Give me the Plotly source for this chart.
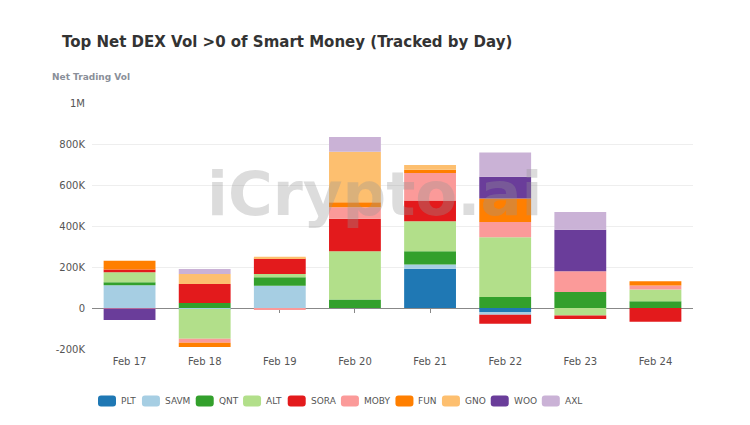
import plotly.graph_objects as go

# values in thousands (K)
days = ["Feb 17", "Feb 18", "Feb 19", "Feb 20", "Feb 21", "Feb 22", "Feb 23", "Feb 24"]

plt_vol = [0, 0, 0, 0, 192, -20, 0, 0]
savm_vol = [111, -5, 109, 0, 20, -13, 0, 0]
qnt_vol = [15, 24, 41, 41, 65, 54, 78, 33]
alt_vol = [49, -145, 16, 236, 146, 291, -36, 57]
sora_vol = [13, 93, 76, 158, 102, -44, -18, -67]
moby_vol = [-3, -20, -5, 57, 133, 75, 101, 20]
fun_vol = [42, -20, 0, 24, 16, 114, 0, 20]
gno_vol = [0, 49, 8, 246, 23, 0, 0, 0]
woo_vol = [-55, 0, 0, 0, 0, 106, 203, 0]
axl_vol = [0, 24, 0, 72, 0, 119, 86, 0]

tokens = ["PLT", "SAVM", "QNT", "ALT", "SORA", "MOBY", "FUN", "GNO", "WOO", "AXL"]
series = [plt_vol, savm_vol, qnt_vol, alt_vol, sora_vol,
          moby_vol, fun_vol, gno_vol, woo_vol, axl_vol]
colors = ["#1f78b4", "#a6cee3", "#33a02c", "#b2df8a", "#e31a1c",
          "#fb9a99", "#ff7f00", "#fdbf6f", "#6a3d9a", "#cab2d6"]

y_ticks = [-200, 0, 200, 400, 600, 800, 1000]
y_tick_labels = ["-200K", "0", "200K", "400K", "600K", "800K", "1M"]

FONT = "DejaVu Sans"

# page body has an 8px margin, so the figure is drawn 8px in from the corner
W, H = 742, 417
L, R, T, B = 84, 57, 95, 76
PW, PH = W - L - R, H - T - B


def px_x(x):
    return (x - L) / PW


def px_y(y):
    return (H - B - y) / PH


fig = go.Figure()
for name, vals, col in zip(tokens, series, colors):
    fig.add_trace(go.Bar(
        x=days,
        y=[v * 1000 for v in vals],
        name=name,
        marker=dict(color=col, line=dict(width=0)),
        showlegend=False,
    ))

# dummy trace so the tick axis at zero is drawn
fig.add_trace(go.Scatter(
    x=days, y=[None] * len(days), xaxis="x2",
    showlegend=False, hoverinfo="skip", mode="markers",
))

fig.update_layout(
    barmode="relative",
    bargap=0.31,
    width=W,
    height=H,
    margin=dict(l=L, r=R, t=T, b=B),
    paper_bgcolor="white",
    plot_bgcolor="white",
    font=dict(family=FONT, size=10, color="#555"),
    showlegend=False,
    title=dict(
        text="<b>Top Net DEX Vol >0 of Smart Money (Tracked by Day)</b>",
        xref="container", x=54 / W, xanchor="left",
        yref="container", y=1 - 34 / H, yanchor="middle",
        font=dict(family=FONT, size=15, color="#333"),
    ),
    xaxis=dict(
        type="category",
        categoryorder="array",
        categoryarray=days,
        showgrid=False,
        ticks="",
        showline=False,
        ticklabelstandoff=5,
        tickfont=dict(size=10, color="#555"),
    ),
    xaxis2=dict(
        type="category",
        categoryorder="array",
        categoryarray=days,
        overlaying="x",
        matches="x",
        anchor="free",
        position=200 / 1200,
        ticks="outside",
        ticklen=4,
        tickcolor="#888",
        showticklabels=False,
        showgrid=False,
        showline=False,
        layer="below traces",
    ),
    yaxis=dict(
        range=[-200000, 1000000],
        tickvals=[t * 1000 for t in y_ticks],
        ticktext=y_tick_labels,
        showgrid=True,
        gridcolor="#eeeeee",
        gridwidth=1,
        zeroline=True,
        zerolinecolor="#888",
        zerolinewidth=1,
        showline=False,
        ticks="",
        ticklabelstandoff=6,
        tickfont=dict(size=10, color="#555"),
    ),
)

fig.add_annotation(
    text="<b>Net Trading Vol</b>",
    xref="paper", x=px_x(42), xanchor="left",
    yref="paper", y=px_y(69), yanchor="middle",
    showarrow=False,
    font=dict(family=FONT, size=9, color="#8a8f99"),
)

fig.add_annotation(
    text="<b>iCrypto.ai</b>",
    xref="paper", x=px_x(367), xanchor="center",
    yref="paper", y=px_y(185), yanchor="middle",
    showarrow=False,
    font=dict(family=FONT, size=61, color="rgba(150,150,150,0.33)"),
)

# custom legend row: rounded swatch + label
CHAR_W = {"A": .684, "B": .686, "F": .575, "G": .775, "L": .557, "M": .863,
          "N": .748, "O": .787, "P": .603, "Q": .787, "R": .695, "S": .635,
          "T": .611, "U": .732, "V": .684, "W": .989, "X": .685, "Y": .611}
LEG_FONT = 9
SW, SH, RAD = 18, 11, 3
leg_x = 90
leg_y = px_y(393)
for name, col in zip(tokens, colors):
    w2, h2 = SW / 2, SH / 2
    path = (f"M{-w2 + RAD},{-h2} L{w2 - RAD},{-h2} Q{w2},{-h2} {w2},{-h2 + RAD} "
            f"L{w2},{h2 - RAD} Q{w2},{h2} {w2 - RAD},{h2} L{-w2 + RAD},{h2} "
            f"Q{-w2},{h2} {-w2},{h2 - RAD} L{-w2},{-h2 + RAD} Q{-w2},{-h2} {-w2 + RAD},{-h2} Z")
    fig.add_shape(
        type="path", path=path,
        xref="paper", yref="paper",
        xsizemode="pixel", ysizemode="pixel",
        xanchor=px_x(leg_x + w2), yanchor=leg_y,
        fillcolor=col, line=dict(width=0),
    )
    tw = sum(CHAR_W.get(c, 0.65) for c in name) * LEG_FONT
    fig.add_annotation(
        text=name,
        xref="paper", x=px_x(leg_x + SW + 4), xanchor="left",
        yref="paper", y=leg_y, yanchor="middle",
        showarrow=False, xshift=-1,
        font=dict(family=FONT, size=LEG_FONT, color="#555"),
    )
    leg_x += SW + 4 + tw + 6

fig.write_html("out.html")
